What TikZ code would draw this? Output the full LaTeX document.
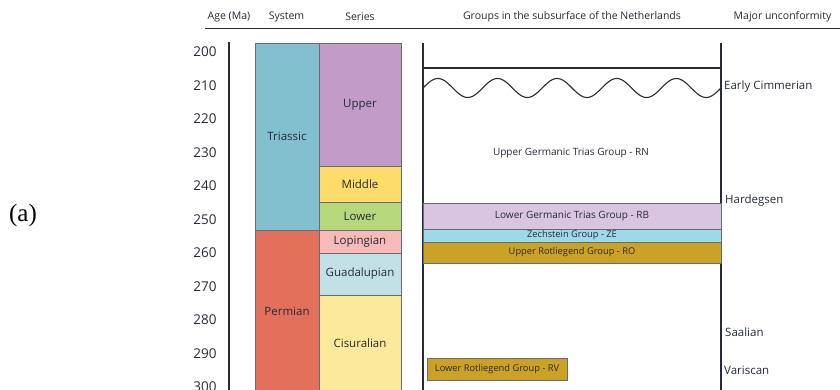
\documentclass[tikz,border=0pt]{standalone}
\usepackage{fontspec}
\setmainfont{Open Sans}
\newfontfamily\serifa{Liberation Serif}
\definecolor{ink}{HTML}{262B36}
\definecolor{cTri}{HTML}{82BFCF}
\definecolor{cPerm}{HTML}{E3705A}
\definecolor{cUpper}{HTML}{C29BC9}
\definecolor{cMiddle}{HTML}{FDDC6A}
\definecolor{cLower}{HTML}{B6D77B}
\definecolor{cLop}{HTML}{F8B9B9}
\definecolor{cGuad}{HTML}{C2E1E7}
\definecolor{cCis}{HTML}{FCE99B}
\definecolor{cRB}{HTML}{D9C4E1}
\definecolor{cZE}{HTML}{9DD9E6}
\definecolor{cRO}{HTML}{CBA226}
\begin{document}
\begin{tikzpicture}[x=1pt,y=-1pt,
  hdr/.style={font=\fontsize{10.5}{12}\selectfont, text=ink, inner sep=0pt},
  tick/.style={font=\fontsize{13.5}{15}\selectfont, text=ink, inner sep=0pt},
  grp/.style={font=\fontsize{10}{11}\selectfont, text=ink, inner sep=0pt},
  unc/.style={font=\fontsize{11.5}{13}\selectfont, text=ink, inner sep=0pt, anchor=west},
  col/.style={draw=ink!70, line width=0.5pt, inner sep=0pt, outer sep=0pt, font=\fontsize{11.5}{13}\selectfont, text=ink},
  gbox/.style={draw=ink!70, line width=0.5pt, inner sep=0pt, outer sep=0pt, font=\fontsize{9.3}{10}\selectfont, text=ink},
  axis/.style={draw=ink, line width=1.3pt}
]
\useasboundingbox (0,0) rectangle (840,390);
\fill[white] (0,0) rectangle (840,390);

% headers
\node[hdr] (hAge) at (229,17) {Age (Ma)};
\node[hdr] (hSys) at (286.5,17) {System};
\node[hdr] (hSer) at (360,17) {Series};
\node[hdr] (hGrp) at (572,17) {Groups in the subsurface of the Netherlands};
\node[hdr] (hUnc) at (782.5,17) {Major unconformity};
\coordinate (hl) at (205,28.5);
\coordinate (hr) at (840,28.5);
\draw[draw=ink, line width=1pt] (hl) -- (hr);

% age ticks
\foreach \a/\y in {200/52,210/85.5,220/119,230/152.5,240/186,250/219.5,260/253,270/286.5,280/320,290/353.5,300/386.5}{
  \node[tick] (t\a) at (205,\y) {\a};
}
\coordinate (axT) at (229,42);
\coordinate (axB) at (229,392);
\draw[axis] (axT) -- (axB);

% system column
\node[col, fill=cTri, minimum width=64pt, minimum height=187pt] (tri) at (287,136.5) {Triassic};
\node[col, fill=cPerm, minimum width=64pt, minimum height=162pt] (perm) at (287,311) {Permian};

% series column
\node[col, fill=cUpper, minimum width=82pt, minimum height=123pt] (upp) at (360,104.5) {Upper};
\node[col, fill=cMiddle, minimum width=82pt, minimum height=36pt] (mid) at (360,184) {Middle};
\node[col, fill=cLower, minimum width=82pt, minimum height=28pt] (low) at (360,216) {Lower};
\node[col, fill=cLop, minimum width=82pt, minimum height=23pt] (lop) at (360,241.5) {Lopingian};
\node[col, fill=cGuad, minimum width=82pt, minimum height=42pt] (gua) at (360,274) {Guadalupian};
\node[col, fill=cCis, minimum width=82pt, minimum height=97pt] (cis) at (360,343.5) {Cisuralian};

% groups panel
\coordinate (gLT) at (423,43);
\coordinate (gLB) at (423,392);
\coordinate (gRT) at (721,43);
\coordinate (gRB) at (721,392);
\draw[axis] (gLT) -- (gLB);
\draw[axis] (gRT) -- (gRB);
\coordinate (topL) at (423,68);
\coordinate (topR) at (721,68);
\draw[draw=ink, line width=1.1pt] (topL) -- (topR);
\draw[draw=ink, line width=1.1pt] plot[domain=0:298, samples=240, smooth] ({423+\x}, {88 - 9.5*sin(6.0403*\x)});

\node[grp] (rn) at (571,153) {Upper Germanic Trias Group - RN};
\node[gbox, fill=cRB, minimum width=298pt, minimum height=26pt, font=\fontsize{10}{11}\selectfont] (rb) at (572,216) {Lower Germanic Trias Group - RB};
\node[gbox, fill=cZE, minimum width=298pt, minimum height=13pt] (ze) at (572,235.5) {Zechstein Group - ZE};
\node[gbox, fill=cRO, minimum width=298pt, minimum height=21pt] (ro) at (572,252.5) {Upper Rotliegend Group - RO};
\node[gbox, fill=cRO, minimum width=140pt, minimum height=22pt] (rv) at (497,369) {Lower Rotliegend Group - RV};

% unconformities
\node[unc] (ec) at (724,87) {Early Cimmerian};
\node[unc] (ha) at (725,201) {Hardegsen};
\node[unc] (sa) at (725,332) {Saalian};
\node[unc] (va) at (724,370) {Variscan};

% panel label
\node[inner sep=0pt, font=\serifa\fontsize{25}{28}\selectfont] (pa) at (23,215) {(a)};
\end{tikzpicture}
\end{document}
